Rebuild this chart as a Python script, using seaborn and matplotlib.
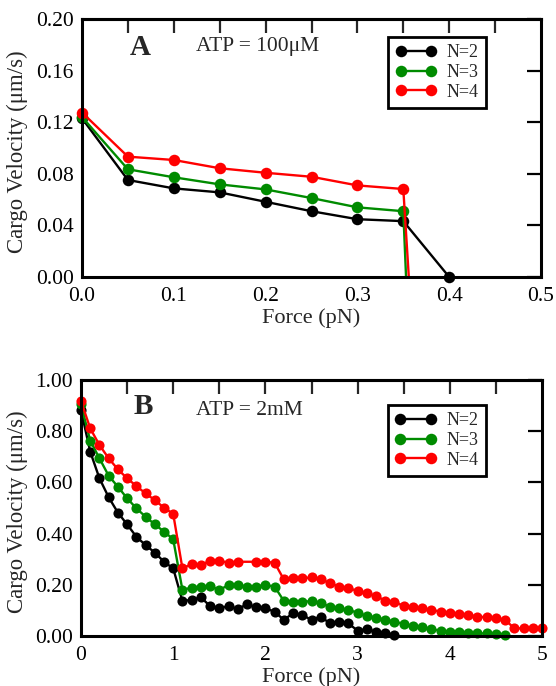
import numpy as np
import pandas as pd
import matplotlib
matplotlib.use("Agg")
import matplotlib.pyplot as plt
from matplotlib.lines import Line2D
from matplotlib.colors import same_color
import seaborn as sns

# ---------------- data ----------------
series_labels = ["N=2", "N=3", "N=4"]
series_colors = ["#000000", "#008b00", "#ff0000"]

# Panel A (ATP = 100 uM)
forceA_n2 = [0.0, 0.05, 0.10, 0.15, 0.20, 0.25, 0.30, 0.35, 0.40]
velA_n2 = [0.123, 0.0752, 0.0687, 0.0656, 0.0583, 0.051, 0.0448, 0.0433, 0.0]
forceA_n3 = [0.0, 0.05, 0.10, 0.15, 0.20, 0.25, 0.30, 0.35, 0.353]
velA_n3 = [0.124, 0.0835, 0.0773, 0.0718, 0.0679, 0.0612, 0.054, 0.051, 0.0]
forceA_n4 = [0.0, 0.05, 0.10, 0.15, 0.20, 0.25, 0.30, 0.35, 0.356]
velA_n4 = [0.1275, 0.0933, 0.0907, 0.0843, 0.0808, 0.0777, 0.071, 0.0682, 0.0]

# Panel B (ATP = 2 mM)
forceB_n2 = [0.0, 0.1, 0.2, 0.3, 0.4, 0.5, 0.6, 0.7, 0.8, 0.9,
             1.0, 1.1, 1.2, 1.3, 1.4, 1.5, 1.6, 1.7, 1.8, 1.9,
             2.0, 2.1, 2.2, 2.3, 2.4, 2.5, 2.6, 2.7, 2.8, 2.9,
             3.0, 3.1, 3.2, 3.3, 3.4]
velB_n2 = [0.883, 0.72, 0.616, 0.542, 0.482, 0.436, 0.388, 0.355, 0.326, 0.29,
           0.264, 0.137, 0.141, 0.151, 0.117, 0.108, 0.117, 0.105, 0.124, 0.112,
           0.108, 0.095, 0.063, 0.089, 0.082, 0.063, 0.076, 0.049, 0.056, 0.049,
           0.021, 0.026, 0.017, 0.013, 0.004]
forceB_n3 = [0.0, 0.1, 0.2, 0.3, 0.4, 0.5, 0.6, 0.7, 0.8, 0.9,
             1.0, 1.1, 1.2, 1.3, 1.4, 1.5, 1.6, 1.7, 1.8, 1.9,
             2.0, 2.1, 2.2, 2.3, 2.4, 2.5, 2.6, 2.7, 2.8, 2.9,
             3.0, 3.1, 3.2, 3.3, 3.4, 3.5, 3.6, 3.7, 3.8, 3.9,
             4.0, 4.1, 4.2, 4.3, 4.4, 4.5, 4.6]
velB_n3 = [0.905, 0.763, 0.694, 0.626, 0.583, 0.538, 0.499, 0.466, 0.436, 0.408,
           0.378, 0.18, 0.189, 0.193, 0.195, 0.18, 0.199, 0.199, 0.193, 0.193,
           0.199, 0.193, 0.137, 0.134, 0.134, 0.136, 0.128, 0.115, 0.108, 0.102,
           0.091, 0.078, 0.072, 0.063, 0.056, 0.047, 0.039, 0.034, 0.026, 0.021,
           0.017, 0.017, 0.013, 0.010, 0.010, 0.008, 0.005]
forceB_n4 = [0.0, 0.1, 0.2, 0.3, 0.4, 0.5, 0.6, 0.7, 0.8, 0.9,
             1.0, 1.1, 1.2, 1.3, 1.4, 1.5, 1.6, 1.7, 1.9,
             2.0, 2.1, 2.2, 2.3, 2.4, 2.5, 2.6, 2.7, 2.8, 2.9,
             3.0, 3.1, 3.2, 3.3, 3.4, 3.5, 3.6, 3.7, 3.8, 3.9,
             4.0, 4.1, 4.2, 4.3, 4.4, 4.5, 4.6, 4.7, 4.8, 4.9, 5.0]
velB_n4 = [0.918, 0.811, 0.746, 0.694, 0.651, 0.616, 0.586, 0.557, 0.531, 0.501,
           0.477, 0.264, 0.281, 0.277, 0.294, 0.294, 0.286, 0.29, 0.29,
           0.29, 0.286, 0.221, 0.225, 0.225, 0.229, 0.223, 0.206, 0.193, 0.186,
           0.177, 0.167, 0.156, 0.138, 0.134, 0.117, 0.115, 0.108, 0.102, 0.095,
           0.091, 0.086, 0.082, 0.076, 0.073, 0.069, 0.063, 0.030, 0.030, 0.030, 0.030]

xticksA = [0.0, 0.1, 0.2, 0.3, 0.4, 0.5]
xticklabelsA = ["0.0", "0.1", "0.2", "0.3", "0.4", "0.5"]
yticksA = [0.0, 0.04, 0.08, 0.12, 0.16, 0.20]
yticklabelsA = ["0.00", "0.04", "0.08", "0.12", "0.16", "0.20"]
xticksB = [0, 1, 2, 3, 4, 5]
xticklabelsB = ["0", "1", "2", "3", "4", "5"]
yticksB = [0.0, 0.2, 0.4, 0.6, 0.8, 1.0]
yticklabelsB = ["0.00", "0.20", "0.40", "0.60", "0.80", "1.00"]


def frame(forces, vels):
    parts = []
    for f, v, lab in zip(forces, vels, series_labels):
        parts.append(pd.DataFrame({"Force": f, "Velocity": v, "N": lab}))
    return pd.concat(parts, ignore_index=True)


dfA = frame([forceA_n2, forceA_n3, forceA_n4], [velA_n2, velA_n3, velA_n4])
dfB = frame([forceB_n2, forceB_n3, forceB_n4], [velB_n2, velB_n3, velB_n4])

# ---------------- style ----------------
sns.set_style("white")
plt.rcParams["font.family"] = ["Liberation Serif", "DejaVu Serif"]

fig = plt.figure(figsize=(5.56, 6.86), dpi=100)
axA = fig.add_axes([82 / 556, (686 - 277) / 686, 459 / 556, 258 / 686])
axB = fig.add_axes([81 / 556, (686 - 636) / 686, 461 / 556, 256 / 686])

palette = dict(zip(series_labels, series_colors))


def draw(ax, df, ms):
    sns.lineplot(data=df, x="Force", y="Velocity", hue="N", palette=palette,
                 hue_order=series_labels, estimator=None, sort=True,
                 marker="o", markersize=ms, markeredgewidth=0, linewidth=1.7,
                 clip_on=False, ax=ax, legend=False)


draw(axA, dfA, 8.3)
draw(axB, dfB, 7.3)

# in panel A the vertical drop of N=3 and N=4 has no marker at the bottom
for ln in axA.lines:
    if not same_color(ln.get_color(), "#000000"):
        n = len(ln.get_xdata())
        ln.set_markevery(list(range(n - 1)))


def style_axes(ax, xlim, ylim, xt, xtl, yt, ytl, xminor, top_ticks):
    ax.set_xlim(*xlim)
    ax.set_ylim(*ylim)
    ax.set_xticks(xt)
    ax.set_xticklabels(xtl)
    ax.set_yticks(yt)
    ax.set_yticklabels(ytl)
    ax.set_xticks(xminor, minor=True)
    for s in ax.spines.values():
        s.set_linewidth(2.2)
        s.set_color("black")
    ax.tick_params(which="major", direction="in", length=10, width=1.6,
                   top=False, right=True, labelsize=15.5, pad=6,
                   colors="black")
    ax.tick_params(axis="x", which="major", pad=7)
    ax.tick_params(which="minor", direction="in", length=5, width=1.6,
                   top=False, right=False, left=False)
    sec = ax.secondary_xaxis("top")
    sec.set_xticks(top_ticks)
    sec.tick_params(direction="in", length=10, width=1.6, labeltop=False)
    sec.spines["top"].set_linewidth(2.2)
    ax.set_xlabel("Force (pN)", fontsize=16, labelpad=2)
    ax.set_ylabel("Cargo Velocity (μm/s)", fontsize=16)
    ax.grid(False)


style_axes(axA, (0, 0.5), (0, 0.2), xticksA, xticklabelsA, yticksA, yticklabelsA,
           [0.05, 0.15, 0.25, 0.35, 0.45],
           [0.05, 0.1, 0.15, 0.2, 0.25, 0.3, 0.35, 0.4, 0.45])
style_axes(axB, (0, 5), (0, 1.0), xticksB, xticklabelsB, yticksB, yticklabelsB,
           [0.5, 1.5, 2.5, 3.5, 4.5],
           [0.5, 1, 1.5, 2, 2.5, 3, 3.5, 4, 4.5])

# fit the rotated y labels to the reference length (~203 px)
fig.canvas.draw()
for ax in (axA, axB):
    lab = ax.yaxis.label
    h = lab.get_window_extent().height
    lab.set_fontsize(16 * 203.0 / h)
axA.yaxis.set_label_coords((28 - 82) / 459, 0.487)
axB.yaxis.set_label_coords((28 - 81) / 461, 0.487)

axA.text(0.105, 0.89, "A", transform=axA.transAxes, fontsize=21,
         fontweight="bold", ha="left", va="center")
axA.text(0.248, 0.895, "ATP = 100μM", transform=axA.transAxes, fontsize=15.5,
         ha="left", va="center")
axB.text(0.113, 0.895, "B", transform=axB.transAxes, fontsize=21,
         fontweight="bold", ha="left", va="center")
axB.text(0.25, 0.88, "ATP = 2mM", transform=axB.transAxes, fontsize=15.5,
         ha="left", va="center")


def add_legend(ax, anchor, ms):
    handles = [Line2D([], [], color=c, marker="o", markersize=ms,
                      markeredgewidth=0, linewidth=1.7) for c in series_colors]
    leg = ax.legend(handles, series_labels, loc="upper right",
                    bbox_to_anchor=anchor, numpoints=2, fontsize=13,
                    frameon=True, fancybox=False, edgecolor="black",
                    framealpha=1, borderpad=0.4, labelspacing=0.15,
                    handlelength=2.3, handletextpad=0.55, borderaxespad=0)
    leg.get_frame().set_linewidth(2)


add_legend(axA, (0.88, 0.93), 8.3)
add_legend(axB, (0.878, 0.902), 8.3)

fig.savefig("out.png", dpi=100)
